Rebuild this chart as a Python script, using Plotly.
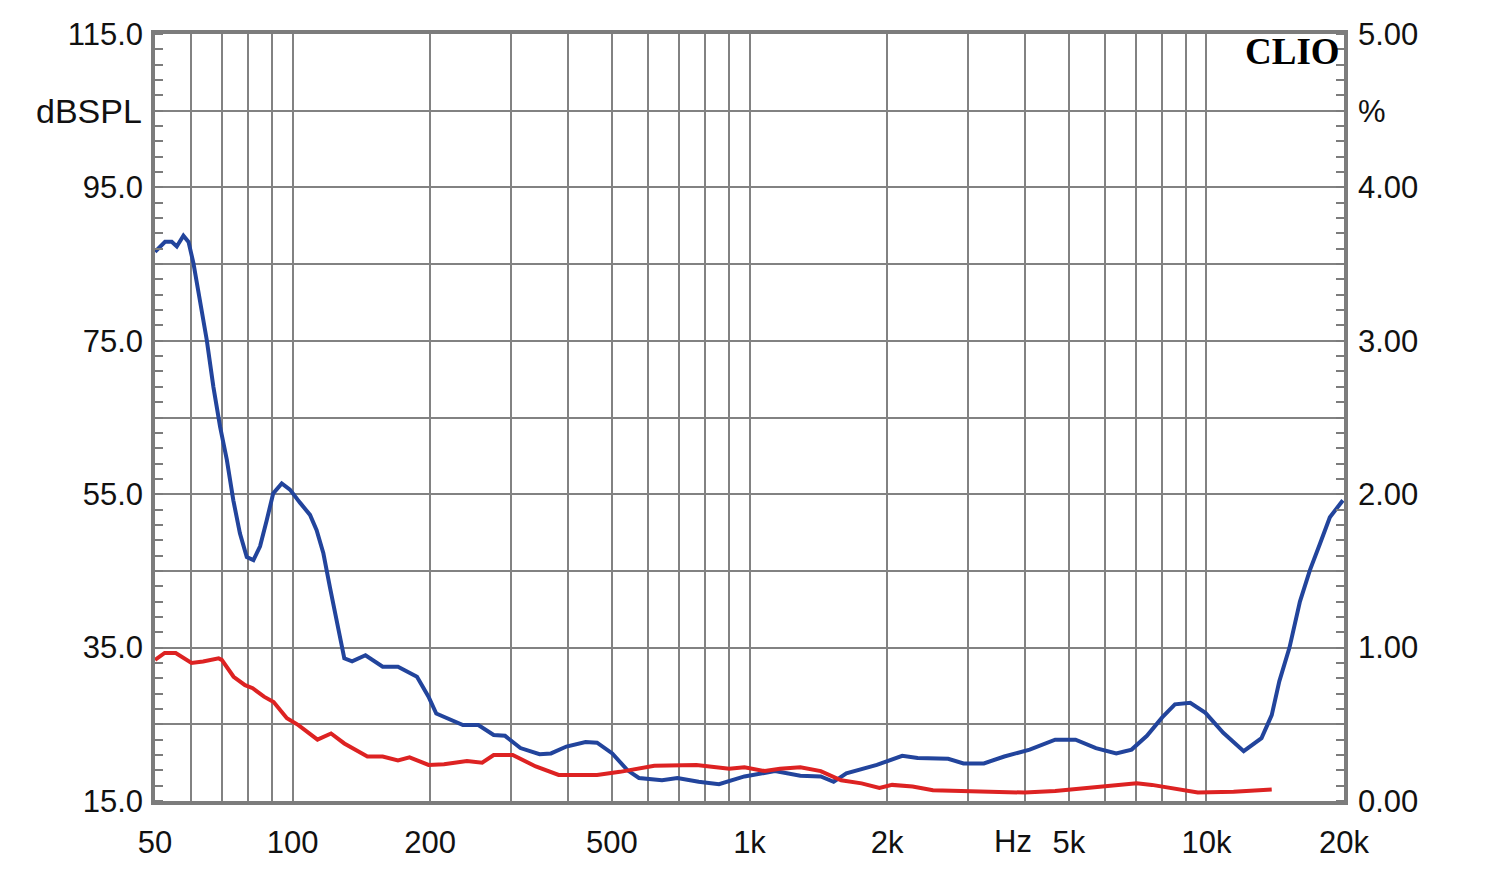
import math
import plotly.graph_objects as go

# ---- data (Hz, dB) ----
blue_freq = [50, 52.6, 54.4, 55.8, 57.7, 59.2, 60.7, 62.7, 64.9, 67.1, 69.4, 71.8, 74.2, 76.7, 79.4,
             82.1, 84.9, 87.8, 90.7, 94.7, 98.7, 103.8, 109.2, 112.9, 116.8, 120.8, 125, 129.8, 135,
             144.4, 157.5, 170.1, 187.2, 198.4, 206.3, 236, 255, 275.5, 291.7, 315.3, 347.2, 367.7,
             397.5, 437.7, 463.8, 500.8, 540.9, 572.9, 643.5, 695.4, 774, 857.6, 974.8, 1137, 1292,
             1432, 1528, 1629, 1900, 2159, 2333, 2721, 2940, 3258, 3611, 4104, 4666, 5171, 5729, 6348,
             6858, 7408, 8001, 8531, 9216, 9950, 10885, 12065, 13197, 13895, 14436, 15196, 16017,
             16844, 17710, 18625, 19890]
blue_db = [86.6, 87.9, 87.9, 87.3, 88.7, 87.9, 85.1, 80.3, 75.1, 69.0, 63.8, 59.5, 54.2, 49.9, 46.8,
           46.4, 48.2, 51.6, 55.1, 56.4, 55.6, 53.9, 52.3, 50.3, 47.3, 42.8, 38.3, 33.6, 33.2,
           34.0, 32.5, 32.5, 31.2, 28.6, 26.4, 24.9, 24.9, 23.6, 23.5, 21.9, 21.1, 21.2,
           22.1, 22.7, 22.6, 21.2, 19.0, 18.0, 17.7, 18.0, 17.5, 17.2, 18.2, 18.9, 18.3,
           18.2, 17.5, 18.6, 19.7, 20.9, 20.6, 20.5, 19.9, 19.9, 20.8, 21.7, 23.0, 23.0, 21.9, 21.2,
           21.7, 23.5, 25.9, 27.6, 27.8, 26.5, 23.9, 21.5, 23.2, 26.2, 30.6, 35.0, 41.0,
           45.1, 48.5, 52.0, 54.2]

red_freq = [50, 52.5, 55.5, 60.1, 63.7, 68.9, 70.0, 74.3, 78.7, 81.8, 86.6, 90.9, 97.2, 103.0, 113.4,
            121.4, 129.8, 145.8, 157.5, 170.1, 180.3, 198.4, 214.5, 240.8, 260, 275.5, 303.3, 340.6,
            382.3, 463.8, 520.6, 619, 765.4, 902.9, 974.8, 1080, 1166, 1292, 1432, 1587, 1759, 1925,
            2052, 2274, 2520, 2940, 3430, 4000, 4666, 5444, 6348, 7036, 7597, 8421, 9575, 11464, 13895]
red_db = [33.4, 34.3, 34.3, 33.0, 33.2, 33.6, 33.4, 31.2, 30.1, 29.7, 28.6, 27.9, 25.8, 24.9, 23.0,
          23.8, 22.5, 20.8, 20.8, 20.3, 20.7, 19.7, 19.8, 20.2, 20.0, 21.0, 21.0, 19.5,
          18.4, 18.4, 18.8, 19.6, 19.7, 19.2, 19.4, 18.9, 19.2, 19.4, 18.9, 17.7, 17.3, 16.7,
          17.1, 16.9, 16.4, 16.3, 16.3, 16.1, 16.3, 16.7, 17.1, 17.3, 17.1, 16.6, 16.1, 16.2, 16.5]

x_grid = [60, 70, 80, 90, 100, 200, 300, 400, 500, 600, 700, 800, 900,
          1000, 2000, 3000, 4000, 5000, 6000, 7000, 8000, 9000, 10000]
x_labels = {50: "50", 100: "100", 200: "200", 500: "500", 1000: "1k", 2000: "2k",
            5000: "5k", 10000: "10k", 20000: "20k"}
y_left_ticks = [15, 25, 35, 45, 55, 65, 75, 85, 95, 105, 115]
y_left_text = ["15.0", "", "35.0", "", "55.0", "", "75.0", "", "95.0", "", "115.0"]
y_right_ticks = [0, 0.5, 1, 1.5, 2, 2.5, 3, 3.5, 4, 4.5, 5]
y_right_text = ["0.00", "", "1.00", "", "2.00", "", "3.00", "", "4.00", "%", "5.00"]

GRID = "#828282"
AXIS = "#7c7c7c"
FONT = "Liberation Sans"
FS = 31

fig = go.Figure()
fig.add_trace(go.Scatter(x=blue_freq, y=blue_db, mode="lines",
                         line=dict(color="#22449c", width=4), showlegend=False))
fig.add_trace(go.Scatter(x=red_freq, y=red_db, mode="lines",
                         line=dict(color="#dd2222", width=4), showlegend=False))
# invisible trace to activate right axis
fig.add_trace(go.Scatter(x=[50], y=[0], yaxis="y2", mode="markers",
                         marker=dict(opacity=0), showlegend=False, hoverinfo="skip"))

tickvals = x_grid + [50, 20000]
ticktext = [x_labels.get(v, "") for v in tickvals]

# page body adds an 8px margin, so the figure is sized 8px smaller
fig.update_layout(
    width=1492, height=865,
    margin=dict(l=147, r=156, t=26, b=72),
    paper_bgcolor="white", plot_bgcolor="white",
    font=dict(family=FONT, size=FS, color="#111111"),
    xaxis=dict(type="log", range=[math.log10(50), math.log10(20000)],
               tickvals=tickvals, ticktext=ticktext, showgrid=True,
               gridcolor=GRID, gridwidth=1.8, ticks="", ticklabelstandoff=11,
               showline=True, linecolor=AXIS, linewidth=3.5, mirror=True,
               zeroline=False, tickfont=dict(size=FS), automargin=False),
    yaxis=dict(range=[15, 115], tickvals=y_left_ticks, ticktext=y_left_text,
               showgrid=True, gridcolor=GRID, gridwidth=1.8, ticks="",
               showline=True, linecolor=AXIS, linewidth=3.5, mirror=True,
               zeroline=False, tickfont=dict(size=FS), ticklabelstandoff=2,
               automargin=False,
               minor=dict(tick0=15, dtick=2, ticks="inside", ticklen=8,
                          tickcolor=AXIS, tickwidth=1.5, showgrid=False)),
    yaxis2=dict(range=[0, 5], overlaying="y", side="right",
                tickvals=y_right_ticks, ticktext=y_right_text,
                showgrid=False, ticks="", zeroline=False, automargin=False,
                tickfont=dict(size=FS), ticklabelstandoff=13,
                minor=dict(tick0=0, dtick=0.1, ticks="inside", ticklen=8,
                           tickcolor=AXIS, tickwidth=1.5, showgrid=False)),
)

fig.add_annotation(x=0, y=105, xref="paper", yref="y", xanchor="right", yanchor="middle",
                   xshift=-11, text="dBSPL", showarrow=False,
                   font=dict(size=34, family=FONT, color="#111111"))
fig.add_annotation(x=math.log10(3780), y=0, xref="x", yref="paper", yanchor="top",
                   yshift=-21, text="Hz", showarrow=False, font=dict(size=FS, family=FONT))
fig.add_annotation(x=1, y=1, xref="paper", yref="paper", xanchor="right", yanchor="top",
                   xshift=-2, yshift=5, text="<b>CLIO</b>", showarrow=False,
                   font=dict(size=37, family="Liberation Serif", color="black"))

fig.write_html("out.html")
